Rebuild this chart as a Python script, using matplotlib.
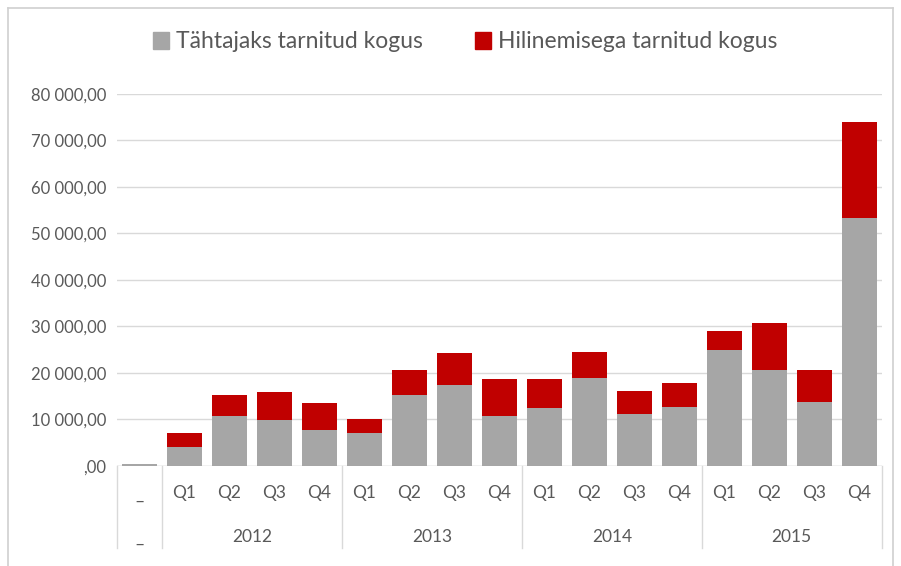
import matplotlib
matplotlib.use("Agg")
import matplotlib.pyplot as plt
from matplotlib.lines import Line2D
from matplotlib.patches import Rectangle
import numpy as np

# ---- data ----
quarters = ["–", "Q1", "Q2", "Q3", "Q4", "Q1", "Q2", "Q3", "Q4",
            "Q1", "Q2", "Q3", "Q4", "Q1", "Q2", "Q3", "Q4"]
years = ["–", "2012", "2013", "2014", "2015"]
year_spans = [(0, 0), (1, 4), (5, 8), (9, 12), (13, 16)]
on_time = [400, 4100, 10600, 9800, 7600, 7000, 15300, 17300, 10800,
           12400, 18900, 11100, 12600, 24800, 20700, 13700, 53300]
late = [0, 3000, 4700, 6100, 6000, 3100, 5300, 7000, 7900,
        6300, 5500, 5000, 5200, 4200, 10100, 7000, 20700]
series_names = ["Tähtajaks tarnitud kogus", "Hilinemisega tarnitud kogus"]
yticks = [0, 10000, 20000, 30000, 40000, 50000, 60000, 70000, 80000]

GRAY = "#a6a6a6"
RED = "#c00000"
TXT = "#595959"
GRID = "#d9d9d9"
FONT = ["Lato", "DejaVu Sans"]

plt.rcParams["font.family"] = FONT

W, H = 901, 566
fig = plt.figure(figsize=(W / 100, H / 100), dpi=100)

def fx(px):
    return px / W

def fy(py):
    return 1 - py / H

left, right, top, bottom = 117, 881.7, 94, 465.7
ax = fig.add_axes([fx(left), fy(bottom), fx(right) - fx(left), fy(top) - fy(bottom)])

x = np.arange(len(quarters))
ax.bar(x, on_time, width=0.78, color=GRAY, zorder=3, label=series_names[0])
ax.bar(x, late, width=0.78, bottom=on_time, color=RED, zorder=3, label=series_names[1])

ax.set_xlim(-0.5, len(quarters) - 0.5)
ax.set_ylim(0, 80000)
ax.set_yticks(yticks)

def fmt(v):
    if v == 0:
        return ",00"
    s = f"{int(v):,}".replace(",", " ")
    return s + ",00"

ax.set_yticklabels([fmt(v) for v in yticks])
ax.tick_params(axis="y", length=0, pad=8, labelsize=12, labelcolor=TXT)
ax.set_xticks([])
ax.grid(axis="y", color=GRID, linewidth=1, zorder=0)
for s in ax.spines.values():
    s.set_visible(False)
ax.axhline(0, color=GRID, linewidth=1, zorder=2)

# multi-level category axis
tr = ax.get_xaxis_transform()
ybot = (bottom - 548) / (bottom - top)
yq = (bottom - 493) / (bottom - top)
yy = (bottom - 537) / (bottom - top)
for i, q in enumerate(quarters):
    yq_i = yq if i > 0 else (bottom - 502) / (bottom - top)
    ax.text(i, yq_i, q, transform=tr, ha="center", va="center",
            fontsize=12.5, color=TXT, clip_on=False)
for name, (a, b) in zip(years, year_spans):
    yv = yy if name != "–" else (bottom - 545) / (bottom - top)
    ax.text((a + b) / 2, yv, name, transform=tr, ha="center", va="center",
            fontsize=12.5, color=TXT, clip_on=False)
seps = [-0.5] + [b + 0.5 for (a, b) in year_spans]
for sx in seps:
    ax.add_line(Line2D([sx, sx], [0, ybot], transform=tr, color=GRID,
                       linewidth=1, clip_on=False))

# legend
handles = [Rectangle((0, 0), 1, 1, color=GRAY), Rectangle((0, 0), 1, 1, color=RED)]
fig.legend(handles, series_names, loc="center", bbox_to_anchor=(fx(465), fy(42)),
           ncol=2, frameon=False, fontsize=16.5, labelcolor=TXT,
           handlelength=0.7, handleheight=0.7, handletextpad=0.3, columnspacing=2.3)

# outer frame
frame_c = "#d0d0d0"
fig.add_artist(Line2D([fx(8), fx(8)], [fy(8), 0], color=frame_c, linewidth=1.2))
fig.add_artist(Line2D([fx(8), fx(893)], [fy(8), fy(8)], color=frame_c, linewidth=1.2))
fig.add_artist(Line2D([fx(893), fx(893)], [fy(8), 0], color=frame_c, linewidth=1.2))

fig.savefig("out.png", dpi=100, facecolor="white")
